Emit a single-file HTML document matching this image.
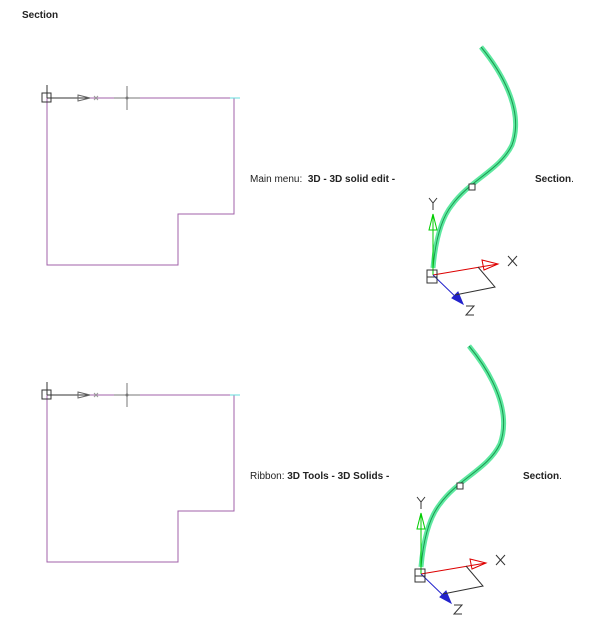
<!DOCTYPE html>
<html><head><style>
body{margin:0;background:#fff;width:609px;height:621px;overflow:hidden;font-family:"Liberation Sans",sans-serif}
.t{position:absolute;font-size:10px;color:#222;white-space:pre}
b{font-weight:bold}
</style></head><body>
<div class="t" style="left:22px;top:10px;font-weight:bold">Section</div>
<div class="t" style="left:250px;top:174px">Main menu:  <b>3D - 3D solid edit -</b></div>
<div class="t" style="left:535px;top:174px"><b>Section</b>.</div>
<div class="t" style="left:250px;top:471px">Ribbon: <b>3D Tools - 3D Solids -</b></div>
<div class="t" style="left:523px;top:471px"><b>Section</b>.</div>
<svg width="609" height="621" style="position:absolute;left:0;top:0" fill="none">
<defs>
<g id="plan">
<path d="M47 98H234V214H178V265H47Z" stroke="#a060a8" stroke-width="1"/>
<line x1="47" y1="85" x2="47" y2="98" stroke="#333"/>
<rect x="42" y="93" width="9" height="9" stroke="#333"/>
<line x1="47" y1="98" x2="90" y2="98" stroke="#333"/>
<path d="M78 95L90 98L78 101Z" stroke="#666"/>
<path d="M94 96L98 100M98 96L94 100" stroke="#999"/>
<line x1="114" y1="98" x2="140" y2="98" stroke="#777"/>
<line x1="127" y1="86" x2="127" y2="110" stroke="#777"/>
<circle cx="127" cy="98" r="1.5" fill="#777"/>
<line x1="230" y1="98" x2="240" y2="98" stroke="#6dd"/>
</g>
<g id="axes">
<path d="M481 47C500 70 525 110 512 145C500 170 470 180 452 205C440 220 435 245 433 268" stroke="#5ee8a0" stroke-width="5"/>
<path d="M481 47C500 70 525 110 512 145C500 170 470 180 452 205C440 220 435 245 433 268" stroke="#1a9a50" stroke-width="1"/>
<rect x="469" y="184" width="6" height="6" stroke="#333" fill="#fff"/>
<line x1="433" y1="275" x2="433" y2="215" stroke="#0c0"/>
<path d="M429 230L433 214L437 230Z" stroke="#0c0"/>
<path d="M429 198L433 203L437 198M433 203V210" stroke="#333"/>
<line x1="433" y1="275" x2="498" y2="264" stroke="#d00"/>
<path d="M482 260L498 264L484 270Z" stroke="#d00"/>
<path d="M508 256L517 266M517 256L508 266" stroke="#333"/>
<line x1="433" y1="275" x2="462" y2="303" stroke="#22c"/>
<path d="M452 298L463 304L458 292Z" stroke="#22c" fill="#22c"/>
<path d="M466 306H474L466 315H474" stroke="#333"/>
<path d="M478 267L495 287L455 295" stroke="#333"/>
<rect x="427" y="270" width="10" height="13" stroke="#333"/>
<line x1="427" y1="277" x2="437" y2="277" stroke="#333"/>
</g>
</defs>
<use href="#plan"/>
<use href="#axes"/>
<use href="#plan" transform="translate(0,297)"/>
<use href="#axes" transform="translate(-12,299)"/>
</svg>
</body></html>
